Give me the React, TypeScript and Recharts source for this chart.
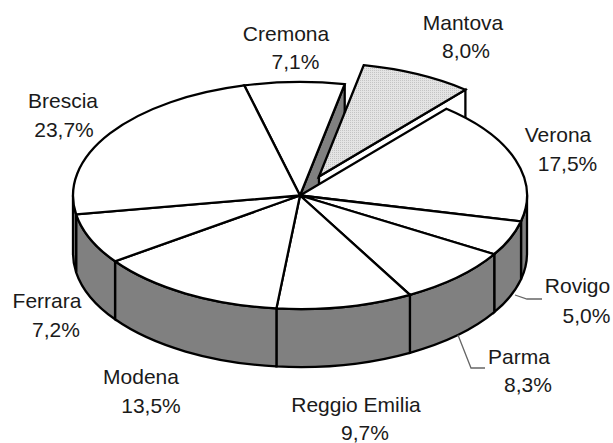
import React from "react";
import { PieChart, Pie } from "recharts";

const names = ["Cremona", "Mantova", "Verona", "Rovigo", "Parma", "Reggio Emilia", "Modena", "Ferrara", "Brescia"];
const shares = [7.1, 8.0, 17.5, 5.0, 8.3, 9.7, 13.5, 7.2, 23.7];
const percentLabels = ["7,1%", "8,0%", "17,5%", "5,0%", "8,3%", "9,7%", "13,5%", "7,2%", "23,7%"];

const tableData = names.map((name, i) => ({ name, value: shares[i], pct: percentLabels[i] }));

const RX = 227;
const RY = 113.5;
const DEPTH = 58;
const CX = 300;
const CY = 195.5;
const EXPLODED = "Mantova";
const EXPLODE = { x: 19, y: -19 };
const WALL = "#808080";
const INK = "#000000";
const SW = 2.3;

// name centre x, percent centre x, name baseline, percent baseline
const labelPos: Record<string, [number, number, number, number]> = {
  Cremona: [286, 295.5, 41, 69],
  Mantova: [463, 466, 30, 58],
  Verona: [558, 567.5, 142, 171],
  Rovigo: [577.5, 586.5, 293, 323],
  Parma: [519, 528, 364, 392],
  "Reggio Emilia": [356, 365, 412, 440],
  Modena: [141, 151, 384, 413],
  Ferrara: [47, 56, 308, 337],
  Brescia: [63, 64, 108, 137],
};
const leaders: Record<string, string> = {
  Rovigo: "M515 295 L527 299 L542 299",
  Parma: "M458 335 L471 368 L485 368",
};

const rad = (a: number) => (a * Math.PI) / 180;
const px = (cx: number, a: number) => cx + RX * Math.cos(rad(a));
const py = (cy: number, a: number) => cy - RY * Math.sin(rad(a));

function topPath(cx: number, cy: number, a0: number, a1: number) {
  return `M${cx} ${cy} L${px(cx, a0)} ${py(cy, a0)} A${RX} ${RY} 0 ${Math.abs(a1 - a0) > 180 ? 1 : 0} 1 ${px(cx, a1)} ${py(cy, a1)} Z`;
}

function outerWall(cx: number, cy: number, a0: number, a1: number) {
  // a0 > a1, going clockwise; only the front half (angles -180..0) can be seen
  const s = Math.min(a0, 0);
  const e = Math.max(a1, -180);
  if (s <= e) return null;
  return `M${px(cx, s)} ${py(cy, s)} A${RX} ${RY} 0 0 1 ${px(cx, e)} ${py(cy, e)} L${px(cx, e)} ${py(cy, e) + DEPTH} A${RX} ${RY} 0 0 0 ${px(cx, s)} ${py(cy, s) + DEPTH} Z`;
}

function cutFace(cx: number, cy: number, a: number) {
  return `M${cx} ${cy} L${px(cx, a)} ${py(cy, a)} L${px(cx, a)} ${py(cy, a) + DEPTH} L${cx} ${cy + DEPTH} Z`;
}

function Slice(props: any) {
  const { cx, cy, startAngle, endAngle, name, payload } = props;
  const key = name ?? payload?.name;
  const exploded = key === EXPLODED;
  const x = exploded ? cx + EXPLODE.x : cx;
  const y = exploded ? cy + EXPLODE.y : cy;
  const wall = outerWall(x, y, startAngle, endAngle);
  const line = { stroke: INK, strokeWidth: SW, strokeLinejoin: "miter" as const };
  return (
    <g>
      {exploded && (
        <defs>
          <pattern id="dots" width="2" height="2" patternUnits="userSpaceOnUse">
            <rect width="2" height="2" fill="#e4e4e4" />
            <rect width="1" height="1" fill="#c4c4c4" />
          </pattern>
        </defs>
      )}
      {key === "Cremona" && <path d={cutFace(x, y, endAngle)} fill={WALL} {...line} />}
      {exploded && <path d={cutFace(x, y, endAngle)} fill="#ffffff" {...line} />}
      {wall && <path d={wall} fill={WALL} {...line} />}
      <path d={topPath(x, y, startAngle, endAngle)} fill={exploded ? "url(#dots)" : "#ffffff"} {...line} />
    </g>
  );
}

function SliceLabel(props: any) {
  const { name, payload } = props;
  const key = name ?? payload?.name;
  const pct = payload?.pct ?? props.pct;
  const [nx, px2, ny, py2] = labelPos[key];
  const common = { textAnchor: "middle" as const, fontFamily: "'Liberation Sans'", fontSize: 21, fill: "#1a1a1a" };
  return (
    <g>
      {leaders[key] && <path d={leaders[key]} fill="none" stroke="#666666" strokeWidth={1.3} />}
      <text x={nx} y={ny} {...common}>{key}</text>
      <text x={px2} y={py2} {...common}>{pct}</text>
    </g>
  );
}

export default function App() {
  return (
    <div style={{ position: "absolute", left: 0, top: 0, width: 613, height: 443, background: "#fff" }}>
      <PieChart width={613} height={443} margin={{ top: 0, right: 0, bottom: 0, left: 0 }}>
        <Pie
          data={tableData}
          dataKey="value"
          nameKey="name"
          cx={CX}
          cy={CY}
          innerRadius={0}
          outerRadius={RX}
          startAngle={104.2}
          endAngle={-255.8}
          shape={Slice}
          label={SliceLabel}
          labelLine={false}
          isAnimationActive={false}
        />
      </PieChart>
    </div>
  );
}
